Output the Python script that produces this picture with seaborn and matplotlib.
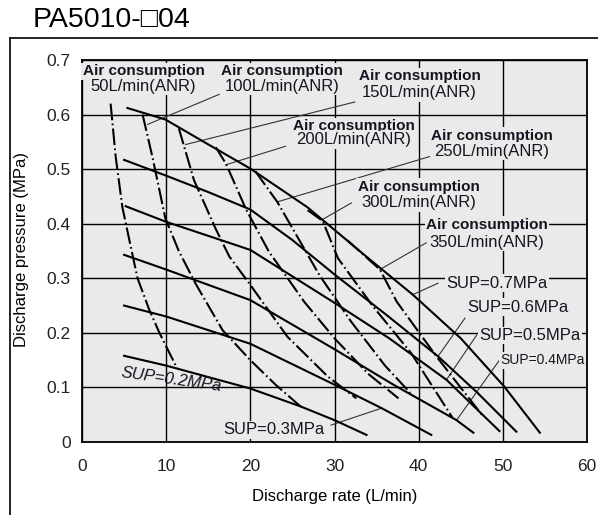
import numpy as np
import pandas as pd
import seaborn as sns
import matplotlib.pyplot as plt
from matplotlib.lines import Line2D

plt.rcParams["font.family"] = ["Liberation Sans", "DejaVu Sans"]

# SUP pressure curves (solid), x = discharge rate L/min, y = discharge pressure MPa
sup_labels = ["0.7", "0.6", "0.5", "0.4", "0.3", "0.2"]
sup_x = [
    [5.4, 9.9, 14.7, 20, 26.8, 34, 39.3, 45, 50.2, 54.4],
    [5.0, 10, 15, 20, 25, 30, 36, 42.3, 47, 51.6],
    [5.2, 9.9, 20, 30, 36.5, 43.3, 49.6],
    [5.0, 10, 20, 30, 37, 44.5, 46.5],
    [5.0, 10, 20, 30, 35.6, 41.5],
    [5.0, 10, 20, 26, 30, 33.8],
]
sup_y = [
    [0.612, 0.591, 0.548, 0.501, 0.43, 0.337, 0.27, 0.19, 0.101, 0.017],
    [0.517, 0.488, 0.458, 0.426, 0.37, 0.307, 0.235, 0.157, 0.09, 0.019],
    [0.432, 0.404, 0.352, 0.255, 0.19, 0.114, 0.02],
    [0.343, 0.316, 0.26, 0.17, 0.105, 0.04, 0.017],
    [0.25, 0.23, 0.18, 0.105, 0.062, 0.013],
    [0.158, 0.14, 0.098, 0.065, 0.04, 0.013],
]

# air consumption curves (dash-dot)
air_labels = ["50", "100", "150", "200", "250", "300", "350"]
air_x = [
    [3.4, 4.0, 4.8, 6.0, 6.6, 8.0, 9.2, 11.3],
    [7.2, 8.4, 9.9, 11.5, 13.5, 16.7, 20, 23, 26.2],
    [11.5, 13.3, 15.9, 17.5, 19.9, 24.4, 29.2, 32.6],
    [15.9, 17.1, 19.5, 22.2, 26.4, 30, 34, 37.6],
    [20.6, 23.2, 28.2, 32, 36, 39],
    [26.8, 28.6, 30.4, 34.6, 39.1, 44],
    [31.5, 35.4, 37.4, 42.1, 47.5],
]
air_y = [
    [0.62, 0.523, 0.43, 0.343, 0.30, 0.242, 0.2, 0.135],
    [0.60, 0.52, 0.41, 0.35, 0.29, 0.205, 0.15, 0.105, 0.062],
    [0.575, 0.48, 0.39, 0.34, 0.29, 0.193, 0.12, 0.08],
    [0.54, 0.51, 0.426, 0.349, 0.257, 0.19, 0.125, 0.08],
    [0.496, 0.44, 0.306, 0.22, 0.14, 0.09],
    [0.425, 0.405, 0.337, 0.248, 0.163, 0.045],
    [0.37, 0.316, 0.257, 0.157, 0.05],
]

bg = "#e9eaea"
ink = "#151520"

fig = plt.figure(figsize=(5.98, 5.15), dpi=100)
ax = fig.add_axes([82 / 598, 1 - 442 / 515, 505 / 598, 382 / 515])
ax.set_facecolor(bg)

for xs, ys in zip(sup_x, sup_y):
    sns.lineplot(x=xs, y=ys, ax=ax, color="black", lw=1.5, sort=False,
                 estimator=None, zorder=3)
for xs, ys in zip(air_x, air_y):
    sns.lineplot(x=xs, y=ys, ax=ax, color="black", lw=1.5, sort=False,
                 estimator=None, zorder=3, linestyle=(0, (8, 1.6, 0.8, 1.6)))

ax.set_xlim(0, 60)
ax.set_ylim(0, 0.7)
ax.set_xticks(range(0, 61, 10))
ax.set_yticks(np.arange(0, 0.71, 0.1))
ax.set_xticklabels([str(v) for v in range(0, 61, 10)])
ax.set_yticklabels(["0", "0.1", "0.2", "0.3", "0.4", "0.5", "0.6", "0.7"])
ax.grid(True, color="black", lw=1.0, zorder=1)
ax.set_axisbelow(True)
ax.tick_params(length=0, labelsize=12.5, labelcolor="#222222")
ax.tick_params(axis="x", pad=12)
ax.tick_params(axis="y", pad=8)
for s in ax.spines.values():
    s.set_linewidth(1.3)
    s.set_color("black")
    s.set_zorder(5)

ax.set_xlabel("Discharge rate (L/min)", fontsize=12)
ax.set_ylabel("Discharge pressure (MPa)", fontsize=12)
ax.xaxis.set_label_coords((335 - 82) / 505, -(497 - 442) / 382)
ax.xaxis.label.set_va("center")
ax.yaxis.set_label_coords((22 - 82) / 505, 0.503)
ax.yaxis.label.set_va("center")

box = dict(facecolor=bg, edgecolor="none", pad=1.0)

# air consumption labels: (line1 centre x, y), line2 y, leader start, leader end
air_pos = [
    (7.3, 0.679, 0.652, None, None),
    (23.8, 0.679, 0.652, (16.3, 0.637), (7.8, 0.582)),
    (40.1, 0.670, 0.640, (32.4, 0.623), (12.3, 0.545)),
    (32.3, 0.579, 0.554, (24.2, 0.542), (17.1, 0.508)),
    (48.7, 0.561, 0.533, (41.3, 0.523), (23.2, 0.440)),
    (40.0, 0.468, 0.438, (32.0, 0.438), (28.6, 0.408)),
    (48.1, 0.398, 0.366, (40.9, 0.365), (35.4, 0.316)),
]
for lab, (cx, y1, y2, p0, p1) in zip(air_labels, air_pos):
    if p0 is not None:
        ax.plot([p0[0], p1[0]], [p0[1], p1[1]], color="#333333", lw=0.8, zorder=2)
    ax.text(cx, y1, "Air consumption", ha="center", va="center", fontsize=11,
            fontweight="bold", color=ink, bbox=box, zorder=6)
    ax.text(cx, y2, lab + "L/min(ANR)", ha="center", va="center", fontsize=12,
            color=ink, bbox=box, zorder=6)

# SUP labels
sup_pos = {
    "0.7": (49.3, 0.291, 12, (42.3, 0.291), (39.3, 0.27)),
    "0.6": (51.8, 0.247, 12, (45.5, 0.227), (42.3, 0.157)),
    "0.5": (53.2, 0.195, 12, (46.9, 0.196), (43.3, 0.114)),
    "0.4": (54.7, 0.150, 10, (49.6, 0.150), (44.5, 0.04)),
    "0.3": (22.8, 0.022, 12, (29.6, 0.031), (35.6, 0.062)),
}
for lab, (cx, cy, fs, p0, p1) in sup_pos.items():
    ax.plot([p0[0], p1[0]], [p0[1], p1[1]], color="#333333", lw=0.8, zorder=2)
    ax.text(cx, cy, "SUP=" + lab + "MPa", ha="center", va="center", fontsize=fs,
            color=ink, bbox=box, zorder=6)
ax.text(10.6, 0.114, "SUP=0.2MPa", ha="center", va="center", fontsize=12,
        style="italic", rotation=-8, color=ink, zorder=6)

fig.text(33 / 598, 1 - 20 / 515, "PA5010-\u25a104", fontsize=20.5, va="center")

# outer frame
fig.add_artist(Line2D([10 / 598, 10 / 598], [0, 1 - 38 / 515], color="black", lw=1.2))
fig.add_artist(Line2D([10 / 598, 1], [1 - 38 / 515, 1 - 38 / 515], color="black", lw=1.2))

fig.savefig("out.png", dpi=100)
